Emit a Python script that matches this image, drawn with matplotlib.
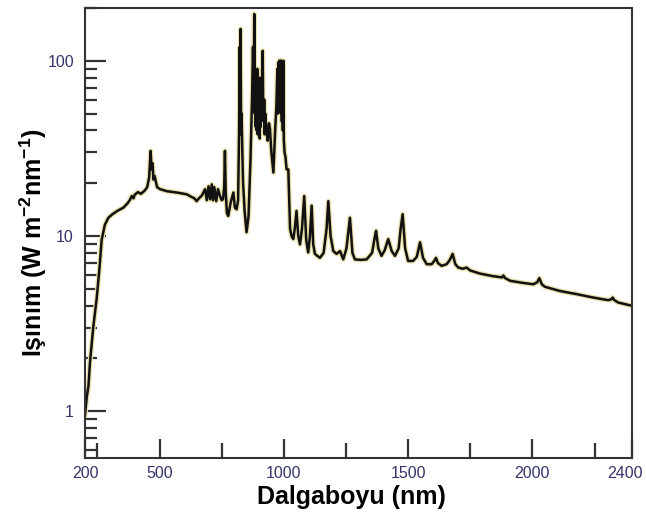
import numpy as np
import matplotlib
matplotlib.use('Agg')
import matplotlib.pyplot as plt
from matplotlib.ticker import FixedLocator, LogLocator, NullFormatter
from matplotlib.transforms import ScaledTranslation

plt.rcParams['font.family'] = ['Liberation Sans', 'DejaVu Sans']
plt.rcParams['mathtext.fontset'] = 'custom'
plt.rcParams['mathtext.bf'] = 'Liberation Sans:bold'
plt.rcParams['mathtext.rm'] = 'Liberation Sans:bold'

# dalgaboyu (nm) ve ışınım değerleri, görselden okunmuş
wavelength = [200, 207, 214, 220, 233, 247, 258, 267, 280, 294, 310, 330, 354, 370, 380,
              388, 395, 400, 413, 425, 441, 450, 458, 464, 468, 472, 475, 480, 490, 502,
              530, 569, 590, 609, 625, 640, 649, 660, 670, 683, 690, 697, 703, 710, 715,
              720, 728, 735, 743, 750, 755, 760, 763, 766, 771, 776, 786, 797, 803, 810,
              816, 820, 822, 824, 826, 828, 830, 833, 836, 842, 850, 858, 866, 872, 876,
              879, 881, 883, 885, 887, 889, 891, 893, 895, 897, 899, 901, 903, 905, 907,
              909, 911, 913, 915, 917, 919, 921, 923, 925, 927, 931, 935, 940, 944, 950,
              958, 965, 970, 974, 976, 978, 980, 982, 984, 986, 988, 990, 992, 994, 996,
              998, 1000, 1003, 1007, 1011, 1018, 1025,
              1031, 1038, 1044, 1051, 1058, 1065, 1073, 1082, 1090, 1098, 1105, 1112, 1118, 1125, 1145,
              1160, 1172, 1179, 1188, 1199, 1212, 1226, 1239, 1252, 1266, 1276, 1286, 1310, 1333, 1355,
              1364, 1371, 1380, 1393, 1406, 1420, 1434, 1447, 1462, 1470, 1478, 1488, 1500, 1520, 1535,
              1548, 1560, 1575, 1595, 1605, 1612, 1620, 1635, 1655, 1665, 1672, 1679, 1690, 1702, 1720,
              1735, 1750, 1789, 1840, 1878, 1883, 1890, 1910, 1960, 2004, 2020, 2028, 2038, 2050, 2111,
              2180, 2245, 2305, 2318, 2323, 2330, 2345, 2399]
irradiance = [0.95, 1.2, 1.4, 1.9, 3.0, 4.4, 6.5, 9.5, 11.6, 12.7, 13.3, 13.9, 14.5, 15.3, 16.0,
              16.9, 16.4, 17.2, 17.8, 17.4, 18.2, 19.0, 21.5, 30.6, 24, 26, 21, 22, 19, 18.5,
              18.0, 17.7, 17.5, 17.3, 16.8, 16.4, 15.8, 16.5, 17.0, 18.5, 16.0, 19.2, 16.2, 19.7, 16.0,
              19.0, 15.8, 18.5, 16.9, 16.0, 16.2, 19, 30.6, 18, 13.5, 13.0, 15.5, 17.7, 14.5, 14.2,
              16, 40, 120, 45, 152, 38, 50, 30, 20, 14, 10.5, 13, 28, 60, 120,
              60, 185, 50, 85, 42, 80, 40, 90, 38, 78, 40, 75, 36, 80, 42,
              70, 48, 90, 114, 50, 45, 60, 38, 50, 45, 39, 35, 44, 41, 30,
              23, 40, 55, 90, 50, 98, 55, 100, 60, 100, 50, 100, 45, 95, 40,
              100, 35, 30, 28, 24, 24, 11,
              10, 9.6, 11, 13.9, 10, 8.95, 11, 16.9, 9.5, 8.05, 10, 14.9, 9, 7.9, 7.5,
              8.0, 11, 15.8, 10, 8.2, 7.9, 8.2, 7.35, 8.5, 12.7, 8, 7.35, 7.3, 7.35, 8,
              9.5, 10.7, 8.5, 7.7, 8.3, 9.6, 8.2, 7.7, 8.5, 11, 13.3, 8.5, 7.2, 7.2, 7.6,
              9.2, 7.5, 6.9, 6.9, 7.2, 7.5, 7.0, 6.75, 6.9, 7.2, 7.5, 7.9, 6.9, 6.6, 6.5,
              6.6, 6.35, 6.1, 5.9, 5.8, 5.95, 5.75, 5.55, 5.4, 5.3, 5.45, 5.75, 5.3, 5.13, 4.85,
              4.65, 4.45, 4.3, 4.35, 4.45, 4.3, 4.17, 4.0]

x_major = [200, 500, 1000, 1500, 2000, 2400]
x_minor = [250, 750, 1250, 1750, 2250]
y_major = [1, 10, 100]

fig = plt.figure(figsize=(6.46, 5.19), dpi=100)
ax = fig.add_axes([0.1316, 0.1175, 0.8464, 0.867])

ax.plot(wavelength, irradiance, color='#e8dfa8', lw=3.6, solid_joinstyle='round')
ax.plot(wavelength, irradiance, color='#111111', lw=1.8, solid_joinstyle='round')

ax.set_yscale('log')
ax.set_xlim(200, 2400)
ax.set_ylim(0.54, 200)

ax.xaxis.set_major_locator(FixedLocator(x_major))
ax.xaxis.set_minor_locator(FixedLocator(x_minor))
ax.set_xticklabels([str(v) for v in x_major])
ax.yaxis.set_major_locator(FixedLocator(y_major))
ax.yaxis.set_minor_locator(LogLocator(base=10, subs=np.arange(2, 10)))
ax.yaxis.set_minor_formatter(NullFormatter())
ax.set_yticklabels([str(v) for v in y_major])

lab_col = '#34346a'
ax.tick_params(axis='x', which='major', direction='in', length=14, width=1.6,
               labelsize=11.5, labelcolor=lab_col, pad=6, color='#333333')
ax.tick_params(axis='x', which='minor', direction='in', length=10.5, width=1.6, color='#333333')
ax.tick_params(axis='y', which='major', direction='in', length=15, width=1.6,
               labelsize=11.5, labelcolor=lab_col, pad=8, color='#333333')
ax.tick_params(axis='y', which='minor', direction='in', length=8.5, width=1.6, color='#333333')

# 2400 etiketi kenardan taşmasın diye biraz sola
last = ax.get_xticklabels()[-1]
last.set_transform(last.get_transform() + ScaledTranslation(-0.07, 0, fig.dpi_scale_trans))

for s in ax.spines.values():
    s.set_linewidth(1.5)
    s.set_color('#333333')

ax.set_xlabel('Dalgaboyu (nm)', fontsize=18, fontweight='bold')
ax.xaxis.set_label_coords(0.487, -0.06)
ax.set_ylabel(r'Işınım (W m$^{\mathbf{-2}}$nm$^{\mathbf{-1}}$)', fontsize=18,
              fontweight='bold', va='center')
ax.yaxis.set_label_coords(-0.095, 0.479)

fig.savefig('out.png', dpi=100)
